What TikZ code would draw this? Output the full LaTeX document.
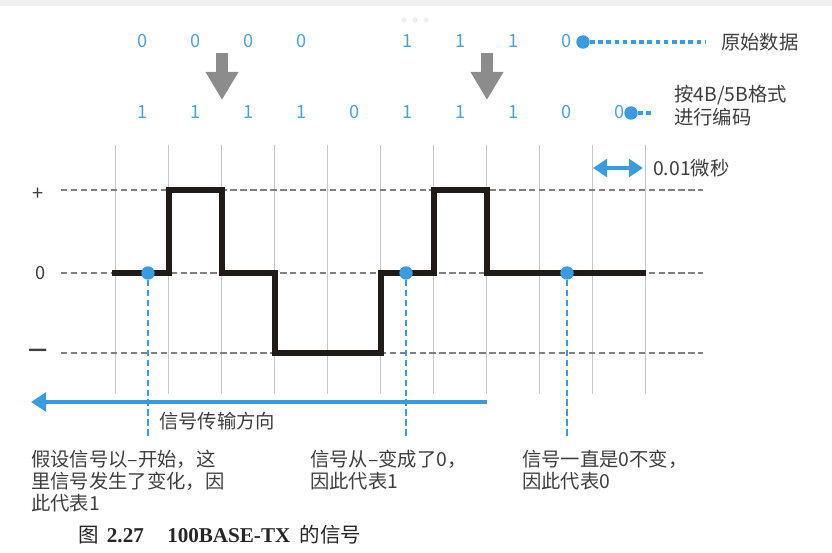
\documentclass[tikz,border=0pt]{standalone}
\usepackage{fontspec}
\setmainfont{Noto Sans CJK SC}
\newfontfamily\capserif{Liberation Serif}
\usetikzlibrary{arrows.meta,positioning}

\definecolor{digitblue}{RGB}{78,162,204}
\definecolor{dotblue}{RGB}{58,155,222}
\definecolor{gridgray}{RGB}{198,198,198}
\definecolor{dashgray}{RGB}{128,128,128}
\definecolor{wavecol}{RGB}{32,27,25}
\definecolor{txtgray}{RGB}{62,62,62}
\definecolor{arrowgray}{RGB}{140,140,140}

\tikzset{
  digit/.style={text=digitblue, font=\fontsize{15.5}{15.5}\selectfont, inner sep=0pt},
  lbl/.style={text=txtgray, font=\fontsize{16.5}{19.5}\selectfont, align=left, inner sep=0pt, anchor=west},
  note/.style={text=txtgray, font=\fontsize{16.5}{18.8}\selectfont, align=left, inner sep=0pt, anchor=north west},
  bluedot/.style={circle, fill=dotblue, inner sep=0pt, minimum size=11.5pt},
  gridline/.style={gridgray, line width=1pt},
  leveldash/.style={dashgray, line width=1.7pt, dash pattern=on 5.5pt off 3pt},
  vlink/.style={dotblue, line width=2.2pt, dash pattern=on 5.5pt off 3pt},
  hlink/.style={dotblue, line width=3.2pt, dash pattern=on 4pt off 3pt},
  downarrow/.style={arrowgray, line width=10pt, -{Triangle[length=24pt, width=26.5pt]}},
}

\begin{document}
\begin{tikzpicture}[x=0.03cm, y=-0.03cm]
\useasboundingbox (0,0) rectangle (832,552);
\fill[black!6] (0,0) rectangle (832,6);
\fill[black!7] (404,20) circle (2.6) (415,20) circle (2.6) (426,20) circle (2.6);

% grid
\foreach \i in {0,...,10}
  \draw[gridline] (115.7+53*\i,145) -- (115.7+53*\i,394);

% levels
\node[text=txtgray, font=\fontsize{17}{17}\selectfont, inner sep=0pt] (plus) at (38,194) {+};
\node[text=txtgray, font=\fontsize{15.5}{15.5}\selectfont, inner sep=0pt] (zero) at (41,273) {0};
\node[text=txtgray, font=\fontsize{18}{18}\selectfont\bfseries, inner sep=0pt] (minus) at (38,353) {—};
\draw[leveldash] (61,190) -- (703,190);
\draw[leveldash] (61,273) -- (703,273);
\draw[leveldash] (61,353) -- (703,353);

% bit rows
\foreach \i/\d in {0/0,1/0,2/0,3/0,5/1,6/1,7/1,8/0}
  \node[digit] (raw\i) at (142.2+53*\i,41) {\d};
\foreach \d [count=\i from 0] in {1,1,1,1,0,1,1,1,0,0}
  \node[digit] (enc\i) at (142.2+53*\i,112) {\d};

\node[bluedot] (rawdot) at (583,42) {};
\coordinate (rawend) at (705,42);
\node[lbl] (rawlbl) at (721,42) {原始数据};
\draw[hlink] (rawdot) -- (rawend);

\node[bluedot] (encdot) at (631,113) {};
\coordinate (encend) at (651,113);
\node[lbl] (enclbl) at (674,106) {按4B/5B格式\\进行编码};
\draw[hlink] (encdot) -- (encend);

% 4B/5B arrows
\coordinate (conv1s) at (222,53);
\coordinate (conv1e) at (222,100);
\coordinate (conv2s) at (487,53);
\coordinate (conv2e) at (487,100);
\draw[downarrow] (conv1s) -- (conv1e);
\draw[downarrow] (conv2s) -- (conv2e);

% bit time
\coordinate (tickl) at (593,168);
\coordinate (tickr) at (643,168);
\draw[dotblue, line width=3.6pt, {Triangle[length=12pt, width=15pt]}-{Triangle[length=12pt, width=15pt]}] (tickl) -- (tickr);
\node[lbl] (ticklbl) at (653,168) {0.01微秒};

% signal
\draw[wavecol, line width=5pt] (112,273) -- (168.7,273) -- (168.7,190) -- (221.8,190) -- (221.8,273)
  -- (274.8,273) -- (274.8,353) -- (381,353) -- (381,273) -- (434,273) -- (434,190) -- (487,190)
  -- (487,273) -- (646,273);

\node[bluedot] (chg1) at (148,273) {};
\node[bluedot] (chg2) at (406,273) {};
\node[bluedot] (same) at (567,273) {};
\coordinate (chg1end) at (148,438);
\coordinate (chg2end) at (406,438);
\coordinate (sameend) at (567,438);
\draw[vlink] (chg1) -- (chg1end);
\draw[vlink] (chg2) -- (chg2end);
\draw[vlink] (same) -- (sameend);

% direction
\coordinate (dirs) at (487,402);
\coordinate (dire) at (31,402);
\draw[dotblue, line width=3.6pt, -{Triangle[length=13pt, width=16pt]}] (dirs) -- (dire);
\node[lbl] (dirlbl) at (159,421) {信号传输方向};

% notes
\node[note] (note1) at (31,450) {假设信号以–开始，这\\里信号发生了变化，因\\此代表1};
\node[note] (note2) at (310,450) {信号从–变成了0，\\因此代表1};
\node[note] (note3) at (522,450) {信号一直是0不变，\\因此代表0};

\node[anchor=west, inner sep=0pt, text=black!85, font=\fontsize{17.5}{17.5}\selectfont] (caption) at (78,535)
  {图\hspace{7pt}{\capserif\fontsize{18}{18}\selectfont\bfseries 2.27}\hspace{20pt}{\capserif\fontsize{18}{18}\selectfont\bfseries 100BASE-TX}\hspace{8pt}的信号};
\end{tikzpicture}
\end{document}
